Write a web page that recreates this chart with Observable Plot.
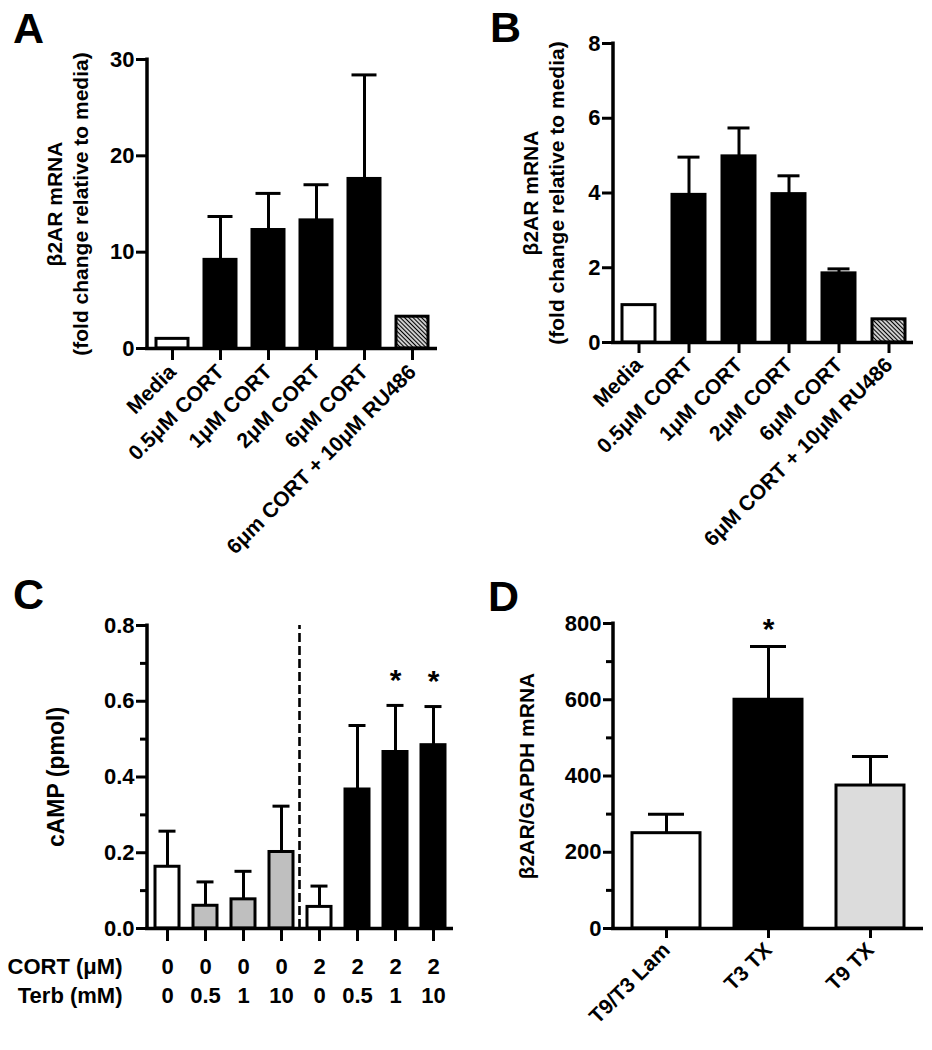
<!DOCTYPE html>
<html><head><meta charset="utf-8">
<script src="https://cdn.jsdelivr.net/npm/d3@7"></script>
<script src="https://cdn.jsdelivr.net/npm/@observablehq/plot@0.6"></script>
<style>
body{margin:0;background:#fff;}
#fig{position:relative;width:932px;height:1050px;font-family:"Liberation Sans",Arial,sans-serif;font-weight:bold;color:#000;overflow:hidden;background:#fff}
.panel{position:absolute}
.letter{position:absolute;font-size:43px;line-height:43px;font-weight:bold}
</style></head><body>
<svg width="0" height="0" style="position:absolute">
  <defs>
    <pattern id="hatch" patternUnits="userSpaceOnUse" width="3" height="3" patternTransform="rotate(-45)">
      <rect width="3" height="3" fill="white"/>
      <line x1="1.5" y1="0" x2="1.5" y2="3" stroke="black" stroke-width="1.4"/>
    </pattern>
  </defs>
</svg>
<div id="fig">
  <div class="letter" style="left:13px;top:7px">A</div>
  <div class="letter" style="left:490px;top:6px">B</div>
  <div class="letter" style="left:13px;top:573px">C</div>
  <div class="letter" style="left:488px;top:575px">D</div>
</div>
<script>
// ---------- Panel A ----------
const catsA  = ["Media", "0.5μM CORT", "1μM CORT", "2μM CORT", "6μM CORT", "6μm CORT + 10μM RU486"];
const meanA  = [1.0, 9.2, 12.3, 13.3, 17.6, 3.3];
const semA   = [0, 4.5, 3.8, 3.7, 10.8, 0];
const groupA = ["media", "cort", "cort", "cort", "cort", "ru486"];
const yTicksA = [0, 10, 20, 30];

// ---------- Panel B ----------
const catsB  = ["Media", "0.5μM CORT", "1μM CORT", "2μM CORT", "6μM CORT", "6μM CORT + 10μM RU486"];
const meanB  = [1.0, 3.95, 4.98, 3.97, 1.85, 0.62];
const semB   = [0, 1.01, 0.76, 0.49, 0.12, 0];
const groupB = ["media", "cort", "cort", "cort", "cort", "ru486"];
const yTicksB = [0, 2, 4, 6, 8];

// ---------- Panel C ----------
const cortC  = ["0", "0", "0", "0", "2", "2", "2", "2"];
const terbC  = ["0", "0.5", "1", "10", "0", "0.5", "1", "10"];
const meanC  = [0.163, 0.060, 0.077, 0.202, 0.057, 0.367, 0.466, 0.484];
const semC   = [0.094, 0.063, 0.074, 0.121, 0.055, 0.169, 0.123, 0.102];
const groupC = ["ctrl", "terb", "terb", "terb", "ctrl", "cort", "cort", "cort"];
const sigC   = [false, false, false, false, false, false, true, true];
const yTicksC = [0, 0.2, 0.4, 0.6, 0.8];
const yMinorC = [0.1, 0.3, 0.5, 0.7];
const rowLabelsC = ["CORT (μM)", "Terb (mM)"];

// ---------- Panel D ----------
const catsD  = ["T9/T3 Lam", "T3 TX", "T9 TX"];
const meanD  = [250, 600, 375];
const semD   = [50, 140, 76];
const groupD = ["lam", "t3", "t9"];
const sigD   = [false, true, false];
const yTicksD = [0, 200, 400, 600, 800];
const yMinorD = [100, 300, 500, 700];

const FONT = '"Liberation Sans", Arial, Helvetica, sans-serif';
const fig = document.getElementById("fig");

function place(svg, left, top) {
  const div = document.createElement("div");
  div.className = "panel";
  div.style.left = left + "px";
  div.style.top = top + "px";
  div.appendChild(svg);
  fig.appendChild(div);
}

// vertical y-axis line drawn from the plot's own y scale
function yAxisLine(yDomain) {
  return (index, scales, values, dims) => {
    const l = document.createElementNS("http://www.w3.org/2000/svg", "line");
    const x = dims.marginLeft;
    l.setAttribute("x1", x); l.setAttribute("x2", x);
    l.setAttribute("y1", scales.y(yDomain[0]) + 1.75);
    l.setAttribute("y2", scales.y(yDomain[1]) - 1.5);
    l.setAttribute("stroke", "black");
    l.setAttribute("stroke-width", 3.5);
    return l;
  };
}

function panel(o) {
  const rows = o.cats.map((c, i) => ({cat: c, mean: o.mean[i], sem: o.sem[i], group: o.group[i], sig: o.sig ? o.sig[i] : false, idx: i}));
  const withErr = rows.filter(d => d.sem > 0);
  const marks = [
    Plot.barY(rows, {x: "cat", y: "mean", fill: "group", stroke: "black", strokeWidth: 3}),
    Plot.ruleX(withErr, {x: "cat", y1: "mean", y2: d => d.mean + d.sem, strokeWidth: 3}),
    Plot.tickY(withErr, {x: "cat", y: d => d.mean + d.sem, strokeWidth: 3, insetLeft: o.capInset, insetRight: o.capInset}),
    Plot.ruleY([0], {strokeWidth: 3.5, insetLeft: -2}),
    yAxisLine(o.yDomain),
    Plot.axisY({ticks: o.yTicks, tickSize: o.yTickSize, tickPadding: 2, tickFormat: o.yFormat, strokeWidth: 3, label: null, fontSize: o.yTickFont}),
  ];
  if (o.yMinor) marks.push(Plot.axisY({ticks: o.yMinor, tickSize: 7, tickFormat: () => "", strokeWidth: 3, label: null}));
  marks.push(Plot.axisX({tickSize: o.xTickSize, tickPadding: o.xTickPadding, tickRotate: o.xTickRotate, strokeWidth: 3, label: null, fontSize: o.xTickFont, tickFormat: o.xTickFormat}));
  marks.push(Plot.text([o.ylabel], {text: d => d, frameAnchor: "left", textAnchor: "middle", lineAnchor: "middle", rotate: -90, dx: o.ylabelDx, fontSize: o.ylabelSize, lineHeight: 1.24}));
  if (o.sig) marks.push(Plot.text(rows.filter(d => d.sig), {x: "cat", y: d => d.mean + d.sem, text: () => "*", fontSize: 30, dy: o.starDy}));
  if (o.extra) marks.push(...o.extra(rows));
  return Plot.plot({
    width: o.width, height: o.height,
    marginLeft: o.ml, marginRight: o.mr, marginTop: o.mt, marginBottom: o.mb,
    style: {fontFamily: FONT, fontWeight: "bold", fontSize: "21px", background: "transparent", color: "black", overflow: "visible"},
    x: {type: "band", domain: o.cats, paddingInner: o.pi, paddingOuter: o.po, axis: null},
    y: {domain: o.yDomain, axis: null},
    color: {type: "ordinal", domain: o.colorDomain, range: o.colorRange},
    marks
  });
}

// A
place(panel({
  cats: catsA, mean: meanA, sem: semA, group: groupA,
  width: 466, height: 575, ml: 147, mr: 29, mt: 59, mb: 227,
  pi: 0.34, po: 0.16, yDomain: [0, 30], yTicks: yTicksA, yFormat: d3.format("d"), yTickSize: 11, yTickFont: 22,
  colorDomain: ["media", "cort", "ru486"], colorRange: ["white", "black", "url(#hatch)"],
  capInset: 3.5, xTickSize: 12, xTickPadding: 8, xTickRotate: -45, xTickFont: 21,
  ylabel: "β2AR mRNA\n(fold change relative to media)", ylabelDx: -81, ylabelSize: 21
}), 0, 0);

// B
place(panel({
  cats: catsB, mean: meanB, sem: semB, group: groupB,
  width: 466, height: 575, ml: 147, mr: 19, mt: 43, mb: 233,
  pi: 0.34, po: 0.17, yDomain: [0, 8], yTicks: yTicksB, yFormat: d3.format("d"), yTickSize: 11, yTickFont: 22,
  colorDomain: ["media", "cort", "ru486"], colorRange: ["white", "black", "url(#hatch)"],
  capInset: 5.5, xTickSize: 11, xTickPadding: 8, xTickRotate: -45, xTickFont: 21,
  ylabel: "β2AR mRNA\n(fold change relative to media)", ylabelDx: -71, ylabelSize: 21
}), 466, 0);

// C
const catsC = cortC.map((c, i) => c + "|" + terbC[i]);
place(panel({
  cats: catsC, mean: meanC, sem: semC, group: groupC, sig: sigC,
  width: 466, height: 475, ml: 147, mr: 13, mt: 50, mb: 122,
  pi: 0.36, po: 0.185, yDomain: [0, 0.8], yTicks: yTicksC, yMinor: yMinorC, yFormat: d3.format(".1f"), yTickSize: 11, yTickFont: 22,
  colorDomain: ["ctrl", "terb", "cort"], colorRange: ["white", "#bfbfbf", "black"],
  capInset: 3.5, xTickSize: 13, xTickPadding: 0, xTickRotate: 0, xTickFont: 21, xTickFormat: () => "",
  ylabel: "cAMP (pmol)", ylabelDx: -93, ylabelSize: 23, starDy: -25,
  extra: rows => [
    Plot.ruleX([catsC[3]], {x: d => d, y1: 0, y2: 0.8, dx: 18, strokeWidth: 2.6, strokeDasharray: "9,4"}),
    Plot.text(rows, {x: "cat", text: d => cortC[d.idx], frameAnchor: "bottom", dy: 45.5, fontSize: 22}),
    Plot.text(rows, {x: "cat", text: d => terbC[d.idx], frameAnchor: "bottom", dy: 74, fontSize: 22}),
    Plot.text([rowLabelsC[0]], {text: d => d, frameAnchor: "bottom-left", textAnchor: "end", dx: -25, dy: 45.5, fontSize: 22}),
    Plot.text([rowLabelsC[1]], {text: d => d, frameAnchor: "bottom-left", textAnchor: "end", dx: -25, dy: 74, fontSize: 22})
  ]
}), 0, 575);

// D
place(panel({
  cats: catsD, mean: meanD, sem: semD, group: groupD, sig: sigD,
  width: 466, height: 475, ml: 147, mr: 9, mt: 48, mb: 122,
  pi: 0.33, po: 0.177, yDomain: [0, 800], yTicks: yTicksD, yMinor: yMinorD, yFormat: d3.format("d"), yTickSize: 10, yTickFont: 22,
  colorDomain: ["lam", "t3", "t9"], colorRange: ["white", "black", "#dcdcdc"],
  capInset: 16, xTickSize: 10, xTickPadding: 8, xTickRotate: -45, xTickFont: 21,
  ylabel: "β2AR/GAPDH mRNA", ylabelDx: -88, ylabelSize: 21, starDy: -17
}), 466, 575);
</script>
</body></html>
